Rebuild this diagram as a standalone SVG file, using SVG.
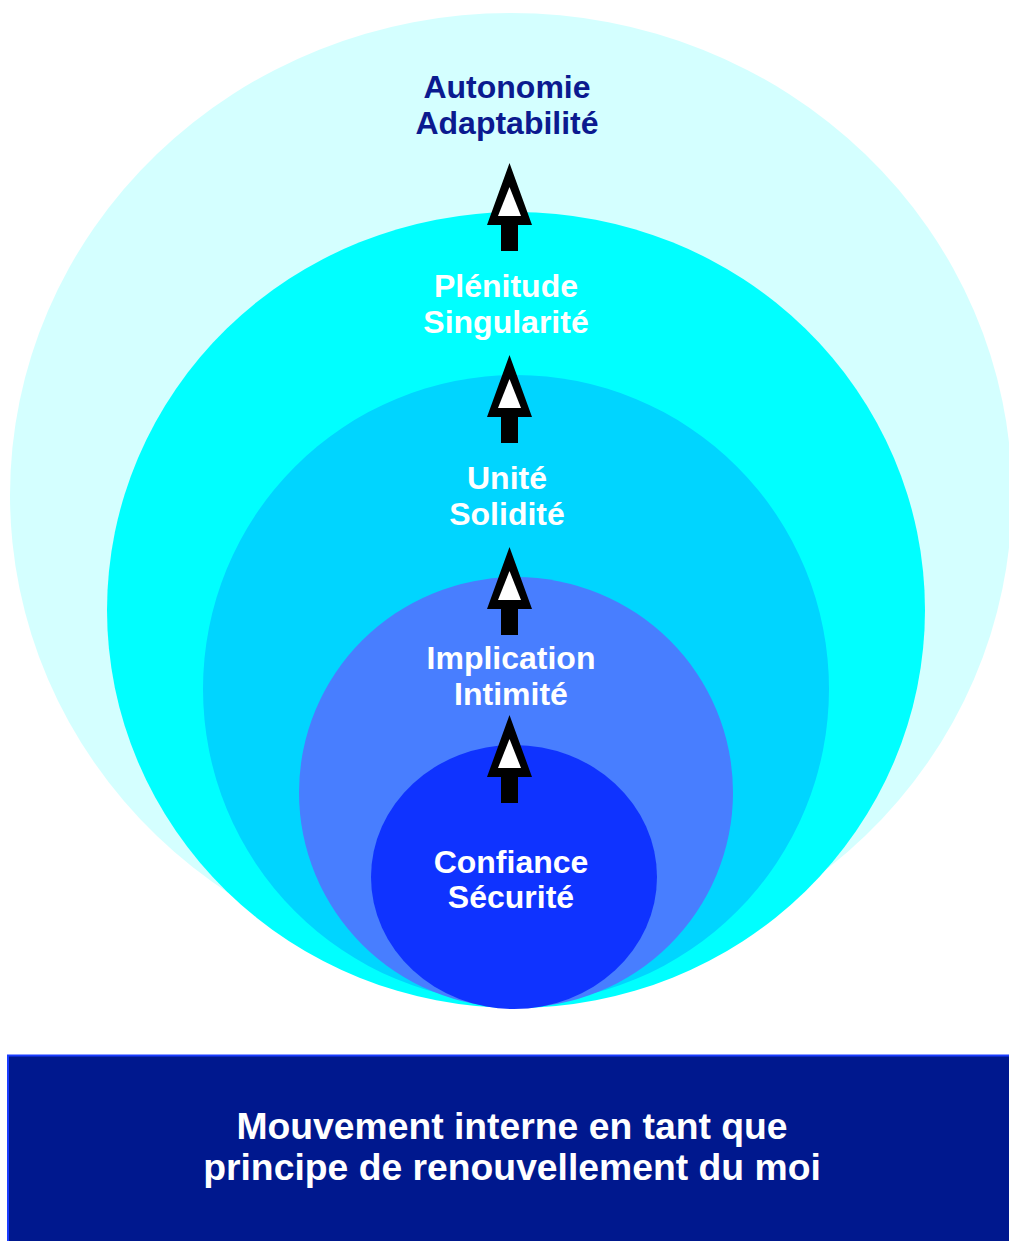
<svg xmlns="http://www.w3.org/2000/svg" width="1009" height="1241" viewBox="0 0 1009 1241">
  <defs>
    <style>
      .lbl { font-family: "Liberation Sans", Arial, sans-serif; font-weight: bold; font-size: 32px; text-anchor: middle; fill: #ffffff; }
      .dark { fill: #0b1a8f; }
      .foot { font-family: "Liberation Sans", Arial, sans-serif; font-weight: bold; font-size: 37.3px; text-anchor: middle; fill: #ffffff; }
    </style>
    <!-- block arrow pointing up, tip at origin -->
    <g id="up-arrow">
      <polygon points="0,0 -22.5,62 -8.5,62 -8.5,88 8.5,88 8.5,62 22.5,62" fill="#000000"/>
      <polygon points="0,24 -11.5,53 11.5,53" fill="#ffffff"/>
    </g>
  </defs>

  <rect width="1009" height="1241" fill="#ffffff"/>

  <g id="level-autonomie">
    <ellipse cx="511" cy="495" rx="501" ry="482" fill="#d4ffff"/>
    <text class="lbl dark" x="507" y="98">Autonomie</text>
    <text class="lbl dark" x="507" y="134">Adaptabilité</text>
  </g>

  <g id="level-plenitude">
    <ellipse cx="516" cy="610" rx="409" ry="398" fill="#00ffff"/>
    <text class="lbl" x="506" y="297">Plénitude</text>
    <text class="lbl" x="506" y="333">Singularité</text>
  </g>

  <g id="level-unite">
    <ellipse cx="516" cy="689" rx="313" ry="314" fill="#00d5ff"/>
    <text class="lbl" x="507" y="489">Unité</text>
    <text class="lbl" x="507" y="525">Solidité</text>
  </g>

  <g id="level-implication">
    <ellipse cx="516" cy="792.5" rx="217" ry="215.5" fill="#487eff"/>
    <text class="lbl" x="511" y="669">Implication</text>
    <text class="lbl" x="511" y="705">Intimité</text>
  </g>

  <g id="level-confiance">
    <ellipse cx="514" cy="877" rx="143" ry="132" fill="#0f33ff"/>
    <text class="lbl" x="511" y="873">Confiance</text>
    <text class="lbl" x="511" y="908">Sécurité</text>
  </g>

  <g id="connectors">
    <use href="#up-arrow" x="509.5" y="163"/>
    <use href="#up-arrow" x="509.5" y="355"/>
    <use href="#up-arrow" x="509.5" y="547"/>
    <use href="#up-arrow" x="509.5" y="715"/>
  </g>

  <g id="banner">
    <rect x="8" y="1055.5" width="1010" height="200" fill="#00188e" stroke="#1a3cff" stroke-width="2"/>
    <text class="foot" x="512" y="1139">Mouvement interne en tant que</text>
    <text class="foot" x="512" y="1180">principe de renouvellement du moi</text>
  </g>
</svg>
